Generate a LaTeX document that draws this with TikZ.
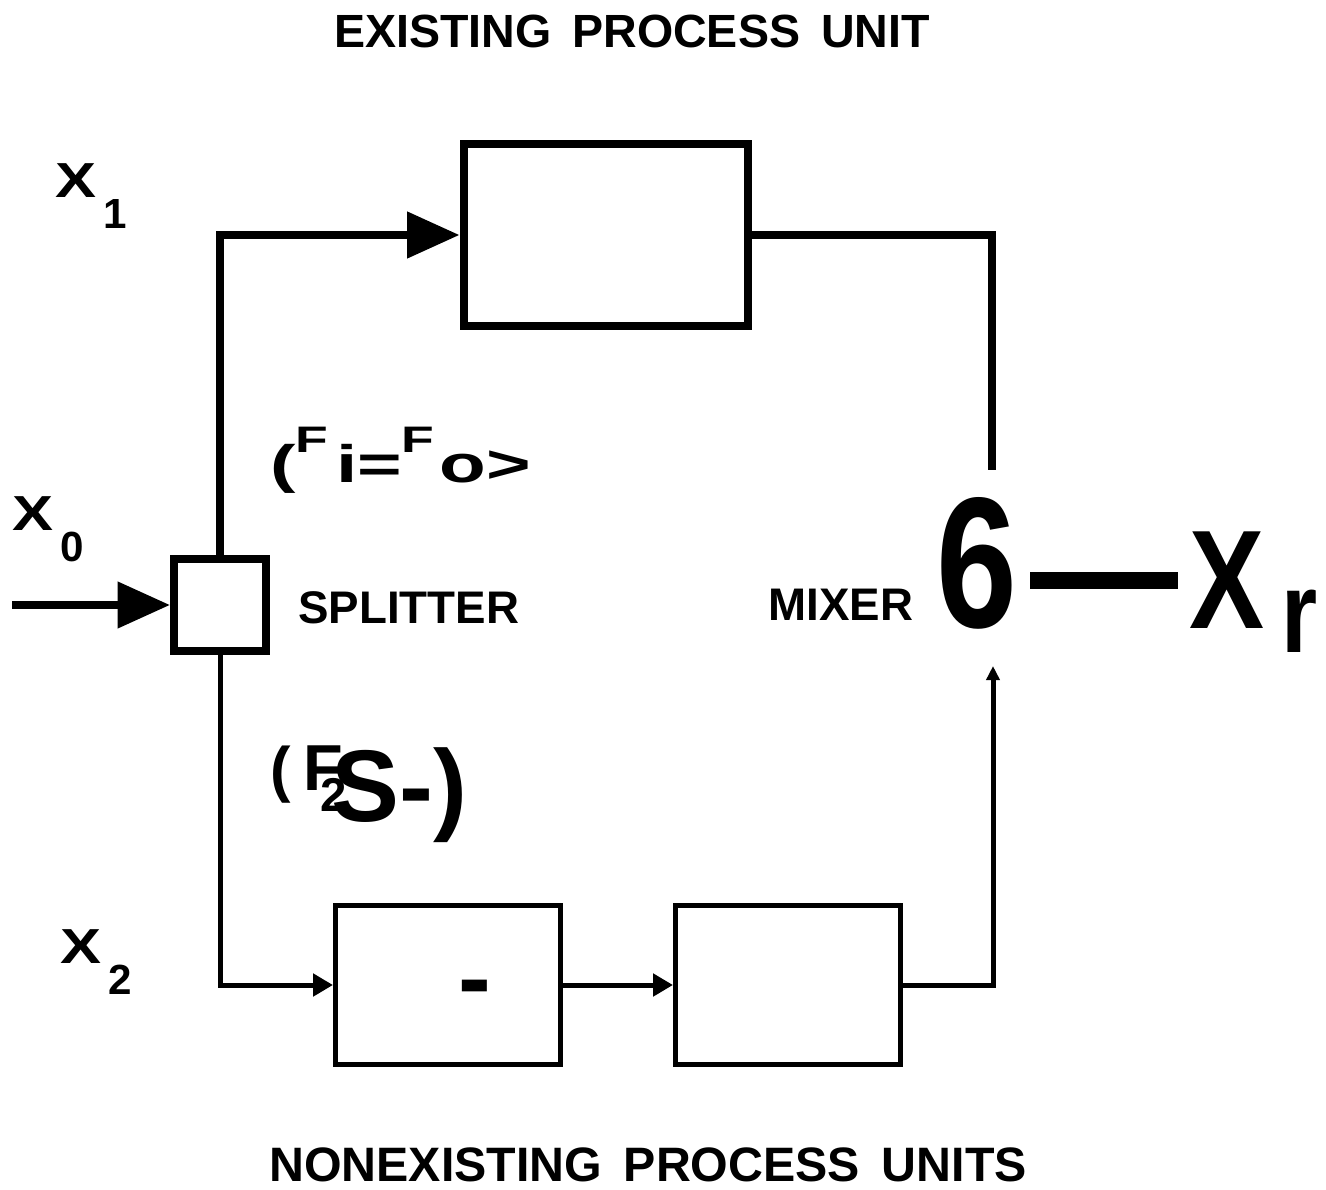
\documentclass[tikz,border=0pt]{standalone}
\usepackage{fontspec}
\setmainfont{Liberation Sans}
\usetikzlibrary{arrows.meta}
\newcommand{\fs}[1]{\fontsize{#1}{#1}\selectfont}
\newcommand{\strm}[2]{{\fs{28}\scalebox{1.25}[1]{#1}}\hspace{4pt}\raisebox{-18pt}{\fs{24}#2}}
\begin{document}
\begin{tikzpicture}[x=0.02cm, y=-0.02cm,
    lbl/.style={font=\bfseries, inner sep=0},
    heavy/.style={line width=0.16cm},
    light/.style={line width=0.1cm},
    unitbox/.style={draw, fill=white, inner sep=0},
    bigtip/.style={-{Triangle[length=1.05cm,width=0.9cm]}},
    midtip/.style={-{Triangle[length=0.4cm,width=0.44cm]}},
    smalltip/.style={-{Triangle[length=0.28cm,width=0.26cm]}}]
    \fill[white] (0,0) rectangle (1326,1190);
    \useasboundingbox (0,0) rectangle (1326,1190);
    % Titres
    \node[lbl, anchor=base] (toptitle) at (632,48) {\fs{26.5}EXISTING\hspace{0.45em}PROCESS\hspace{0.45em}UNIT};
    \node[lbl, anchor=base] (bottitle) at (648,1181) {\fs{27.5}NONEXISTING\hspace{0.45em}PROCESS\hspace{0.45em}UNITS};
    
    % Unites
    \node[unitbox, heavy, minimum width=5.7cm, minimum height=3.64cm] (existing) at (606,235) {};
    \node[unitbox, heavy, minimum width=1.84cm, minimum height=1.84cm] (splitter) at (220,605) {};
    \node[unitbox, light, minimum width=4.5cm, minimum height=3.2cm] (newA) at (448,985) {};
    \node[unitbox, light, minimum width=4.5cm, minimum height=3.2cm] (newB) at (788,985) {};
    \node[lbl] (dashmark) at (475,996) {\fs{56}-};
    \node[lbl] (mixer) at (977,563) {\fs{106}\scalebox{0.78}[1]{6}};
    \node[lbl, anchor=base west] (xr) at (1189,628) {\fs{80}\scalebox{0.8}[1]{X}\hspace{10pt}\raisebox{-14pt}{\fs{66}\scalebox{0.8}[1]{r}}};
    
    % Etiquettes
    \node[lbl, anchor=base west] (splitlbl) at (298,623) {\fs{26}SPLITTER};
    \node[lbl, anchor=base west] (mixlbl) at (768,620) {\fs{26}MIXER};
    \node[lbl, anchor=base west] (x0) at (12,530) {\strm{X}{0}};
    \node[lbl, anchor=base west] (x1) at (55,197) {\strm{X}{1}};
    \node[lbl, anchor=base west] (x2) at (60,963) {\strm{X}{2}};
    \node[lbl, anchor=base west] (flowtop) at (270,482) {\fs{30}\scalebox{1.45}[1]{(\raisebox{17pt}{\fs{21}F}\hspace{3pt}i=\raisebox{17pt}{\fs{21}F}\hspace{2pt}o>}};
    \node[lbl, anchor=base west] (flowbot) at (270,790) {{\fs{35}(}\hspace{7pt}{\fs{37}F}\hspace{-12.5pt}\raisebox{-12.5pt}{\fs{27}2}\hspace{-9pt}\raisebox{-18pt}{\fs{58}S-)}};
    
    % Courants
    \coordinate (feed) at (12,605);
    \coordinate (mixtop) at (992,470);
    \coordinate (mixbot) at (993,666);
    \coordinate (dashL) at ([xshift=0.25cm,yshift=-0.34cm]mixer.east);
    \draw[heavy, bigtip] (feed) -- (splitter.west);
    \draw[heavy, bigtip] (splitter.north) |- (existing.west);
    \draw[heavy] (existing.east) -| (mixtop);
    \draw[light, midtip] (splitter.south) |- (newA.west);
    \draw[light, midtip] (newA.east) -- (newB.west);
    \draw[light, smalltip] (newB.east) -| (mixbot);
    \draw[line width=0.34cm] (dashL) -- ([xshift=-0.22cm]dashL -| xr.west);
\end{tikzpicture}
\end{document}
